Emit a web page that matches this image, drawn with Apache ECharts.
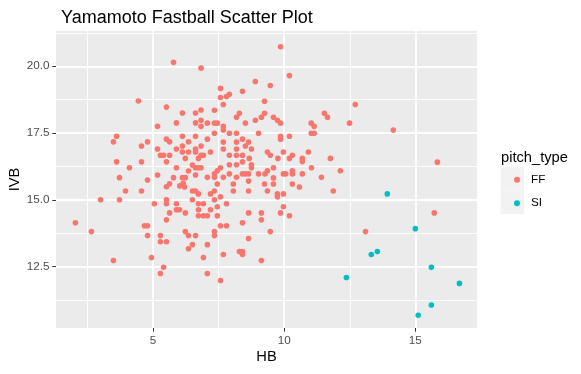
<!DOCTYPE html>
<html>
<head>
<meta charset="utf-8">
<script src="https://cdn.jsdelivr.net/npm/echarts@6/dist/echarts.min.js"></script>
<style>
html,body{margin:0;padding:0;background:#fff;}
#chart{width:581px;height:374px;}
</style>
</head>
<body>
<div id="chart"></div>
<script>
// ---- data ----
const ffHB = [5.78,6.83,4.44,5.51,6.12,6.62,6.83,6.83,5.89,6.62,6.83,5.17,3.61,3.49,4.79,4.56,5.51,5.63,6.12,6.35,6.62,6.83,6.12,5.89,5.17,6.62,6.62,6.35,6.12,5.28,5.40,5.63,6.83,6.92,6.23,6.73,3.61,4.56,5.51,6.50,4.10,5.89,6.62,6.73,6.83,6.35,3.72,5.17,5.78,6.12,6.23,6.62,4.79,
6.02,6.15,6.20,5.63,5.51,3.95,4.56,6.50,6.62,6.73,3.00,3.72,5.05,5.51,5.51,5.89,6.50,6.73,6.92,5.89,6.01,5.63,6.23,6.73,6.73,6.92,5.51,2.04,2.65,4.67,4.79,4.79,5.28,5.28,5.51,6.23,6.35,6.62,6.50,6.35,6.92,3.49,4.94,5.40,5.28,
9.86,10.20,8.90,9.47,7.57,8.41,7.91,7.80,7.57,7.68,9.25,7.34,8.29,8.18,9.25,9.13,9.59,9.74,9.86,8.90,8.52,11.53,11.65,7.07,7.34,7.45,7.68,7.68,7.91,7.34,8.18,9.02,11.03,11.14,11.03,11.14,9.86,9.86,10.20,7.07,7.68,8.18,8.41,8.64,7.68,8.18,8.52,8.75,7.19,7.91,8.18,8.41,9.36,9.47,9.97,10.92,10.31,10.20,10.69,10.69,11.76,12.14,9.76,8.67,8.75,8.75,8.41,8.18,7.91,7.57,7.45,7.34,7.68,7.34,7.07,9.27,9.36,9.59,9.02,8.41,8.52,8.64,9.97,10.06,10.31,10.31,10.69,11.04,11.42,8.18,7.91,
9.59,7.45,8.06,8.64,9.25,9.59,10.31,10.58,7.19,7.34,7.57,8.06,8.64,9.36,9.74,9.74,9.97,11.87,7.34,7.80,7.19,7.45,7.07,7.45,8.64,9.13,9.13,9.86,9.97,10.20,8.41,7.57,7.80,7.34,7.34,9.47,8.64,7.07,8.29,8.41,8.41,7.68,9.13,7.07,7.57,
12.71,12.49,14.16,15.84,15.72,13.10];
const ffIVB = [20.15,19.93,18.70,18.47,18.25,18.25,18.36,17.98,17.88,17.88,17.75,17.75,17.38,17.17,17.17,17.01,17.27,17.17,17.38,17.17,17.38,17.01,17.01,16.90,16.90,16.90,16.79,16.79,16.79,16.67,16.67,16.67,16.67,16.67,16.55,16.55,16.42,16.42,16.42,16.30,16.20,16.20,16.20,16.20,16.20,16.08,15.83,15.93,15.83,15.83,15.83,15.93,15.74,
15.52,15.62,15.48,15.60,15.49,15.33,15.33,15.33,15.33,15.22,15.00,15.00,14.85,15.00,14.85,14.85,15.00,14.85,14.85,14.63,14.63,14.51,14.51,14.63,14.40,14.40,14.25,14.14,13.81,14.03,14.03,13.66,13.66,13.43,13.43,13.81,13.66,13.66,13.32,13.17,12.84,12.73,12.84,12.47,12.24,
20.73,19.65,19.43,19.28,19.17,19.06,18.95,18.87,18.83,18.57,18.69,18.35,18.24,18.09,18.24,18.09,18.09,17.98,17.87,17.98,17.87,18.24,18.09,17.87,17.87,17.87,17.75,17.61,17.49,17.49,17.49,17.49,17.87,17.75,17.49,17.49,17.38,17.27,17.38,17.27,17.16,17.16,17.27,17.16,16.90,16.90,17.01,16.90,16.79,16.67,16.67,16.67,16.79,16.67,16.79,16.79,16.67,16.55,16.55,16.43,16.55,16.09,16.55,16.55,16.31,16.20,16.42,16.31,16.31,16.20,16.09,15.97,15.84,15.84,15.84,15.97,16.09,16.20,15.97,15.97,15.97,15.97,15.97,15.97,16.09,15.97,15.97,16.20,15.84,15.84,15.97,
15.82,15.59,15.59,15.70,15.59,15.59,15.59,15.48,15.22,15.33,15.11,15.33,15.33,15.33,15.22,15.11,15.22,15.33,15.00,14.85,14.63,14.74,14.40,14.40,14.51,14.51,14.25,14.51,14.74,14.40,14.14,14.03,14.03,13.81,13.66,13.81,13.55,13.32,13.06,13.06,12.95,12.95,12.73,12.24,11.98,
18.57,17.87,17.61,16.41,14.51,13.81];
const siHB  = [13.93,15.00,13.32,13.55,15.61,12.37,16.68,15.61,15.11];
const siIVB = [15.22,13.92,12.95,13.06,12.47,12.09,11.87,11.06,10.68];

const xMajor = [5, 10, 15];
const xMinor = [2.5, 7.5, 12.5];
const yMajor = [12.5, 15, 17.5, 20];
const yMinor = [11.25, 13.75, 16.25, 18.75, 21.25];
const seriesNames = ['FF', 'SI'];

// ---- chart ----
const FONT = '"Liberation Sans", Arial, sans-serif';
const X_MIN = 1.30, X_MAX = 17.35, Y_MIN = 10.20, Y_MAX = 21.32;
const zip = (a, b) => a.map((v, i) => [v, b[i]]);

const chart = echarts.init(document.getElementById('chart'), null, {renderer: 'canvas'});

function majorAxis(type, ticks, extra) {
  return Object.assign({
    type: 'value',
    min: type === 'x' ? X_MIN : Y_MIN,
    max: type === 'x' ? X_MAX : Y_MAX,
    axisLine: {show: false},
    axisTick: {show: true, customValues: ticks, length: 3.7, lineStyle: {color: '#333333', width: 1}},
    axisLabel: {show: true, customValues: ticks, margin: 6.5, color: '#4D4D4D', fontSize: 11.7, fontFamily: FONT,
      formatter: type === 'x' ? (v => String(v)) : (v => v.toFixed(1))},
    splitLine: {show: true, lineStyle: {color: '#FFFFFF', width: 1.8}},
    minorTick: {show: false}, minorSplitLine: {show: false}
  }, extra);
}
function minorAxis(type, ticks) {
  return {
    type: 'value',
    min: type === 'x' ? X_MIN : Y_MIN,
    max: type === 'x' ? X_MAX : Y_MAX,
    axisLine: {show: false},
    axisTick: {show: false, customValues: ticks},
    axisLabel: {show: false, customValues: ticks},
    splitLine: {show: true, lineStyle: {color: '#FFFFFF', width: 0.9}}
  };
}

const option = {
  animation: false,
  backgroundColor: '#FFFFFF',
  title: [
    {text: 'Yamamoto Fastball Scatter Plot', left: 56, top: 4,
     textStyle: {fontFamily: FONT, fontSize: 18, fontWeight: 'normal', color: '#000000'}},
    {text: 'pitch_type', left: 496, top: 145,
     textStyle: {fontFamily: FONT, fontSize: 14.7, fontWeight: 'normal', color: '#000000'}}
  ],
  grid: {left: 56, right: 104, top: 31, bottom: 46, show: true, backgroundColor: '#EBEBEB', borderWidth: 0,
         outerBoundsMode: 'none', containLabel: false},
  xAxis: [
    majorAxis('x', xMajor, {name: 'HB', nameLocation: 'middle', nameGap: 21, nameMoveOverlap: false,
      nameTextStyle: {fontFamily: FONT, fontSize: 14.7, color: '#000000'}}),
    Object.assign(minorAxis('x', xMinor), {position: 'bottom'})
  ],
  yAxis: [
    majorAxis('y', yMajor, {name: 'IVB', nameLocation: 'middle', nameGap: 34, nameRotate: 90, nameMoveOverlap: false,
      nameTextStyle: {fontFamily: FONT, fontSize: 14.7, color: '#000000'}}),
    Object.assign(minorAxis('y', yMinor), {position: 'left'})
  ],
  legend: {
    orient: 'vertical', left: 509, top: 163,
    data: seriesNames,
    icon: 'circle', itemWidth: 6, itemHeight: 6, itemGap: 0,
    textStyle: {fontFamily: FONT, fontSize: 11.7, color: '#000000', lineHeight: 23.5, padding: [0, 0, 0, 6]},
    selectedMode: false
  },
  graphic: [
    {type: 'rect', left: 500.5, top: 167, shape: {width: 23.5, height: 23.5}, style: {fill: '#F2F2F2'}, z: -1, silent: true},
    {type: 'rect', left: 500.5, top: 190.5, shape: {width: 23.5, height: 23.5}, style: {fill: '#F2F2F2'}, z: -1, silent: true}
  ],
  series: [
    {name: 'FF', type: 'scatter', xAxisIndex: 0, yAxisIndex: 0, data: zip(ffHB, ffIVB),
     symbol: 'circle', symbolSize: 5.6, itemStyle: {color: '#F8766D', opacity: 1}},
    {name: 'SI', type: 'scatter', xAxisIndex: 0, yAxisIndex: 0, data: zip(siHB, siIVB),
     symbol: 'circle', symbolSize: 5.6, itemStyle: {color: '#00BFC4', opacity: 1}}
  ]
};
chart.setOption(option);
</script>
</body>
</html>
